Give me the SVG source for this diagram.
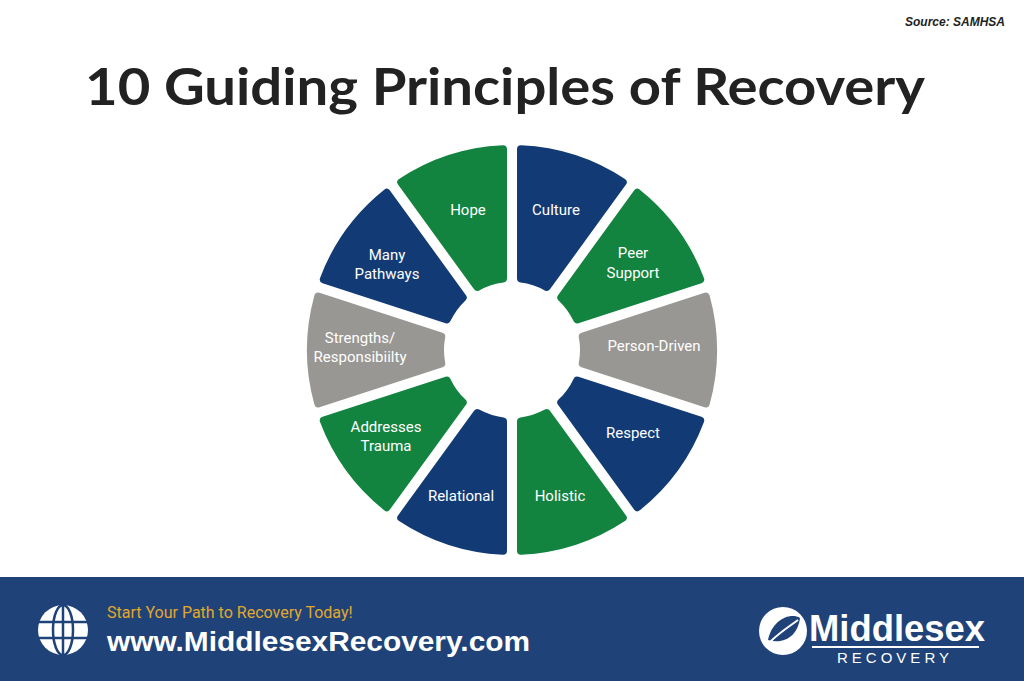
<svg xmlns="http://www.w3.org/2000/svg" width="1024" height="681" viewBox="0 0 1024 681">
<style>
.seg{stroke-width:8;stroke-linejoin:round}
.b{fill:#123b76;stroke:#123b76}
.g{fill:#138340;stroke:#138340}
.y{fill:#999794;stroke:#999794}
.lbl{font-family:Roboto,"Liberation Sans",sans-serif;font-size:15px;fill:#fff;text-anchor:middle}
</style>
<rect width="1024" height="681" fill="#fff"/>
<text x="1005" y="26" font-family="'Liberation Sans',sans-serif" font-size="12" font-style="italic" font-weight="bold" fill="#222" text-anchor="end">Source: SAMHSA</text>
<text x="505" y="105" font-family="Lato,'Liberation Sans',sans-serif" font-size="52" font-weight="bold" fill="#222" text-anchor="middle" textLength="840" lengthAdjust="spacingAndGlyphs">10 Guiding Principles of Recovery</text>
<g id="wheel">
<g id="culture"><path class="seg b" d="M521,149.2 A201,201 0 0 1 622.75,182.26 L546.71,286.91 A72,72 0 0 0 521,278.56 Z"/><text class="lbl" x="556" y="215">Culture</text></g>
<g id="peer"><path class="seg g" d="M637.31,192.84 A201,201 0 0 1 700.2,279.39 L577.17,319.36 A72,72 0 0 0 561.27,297.49 Z"/><text class="lbl" x="633" y="258">Peer</text><text class="lbl" x="633" y="278">Support</text></g>
<g id="person"><path class="seg y" d="M705.76,296.51 A201,201 0 0 1 705.76,403.49 L582.73,363.52 A72,72 0 0 0 582.73,336.48 Z"/><text class="lbl" x="654" y="351">Person-Driven</text></g>
<g id="respect"><path class="seg b" d="M700.2,420.61 A201,201 0 0 1 637.31,507.16 L561.27,402.51 A72,72 0 0 0 577.17,380.64 Z"/><text class="lbl" x="633" y="438">Respect</text></g>
<g id="holistic"><path class="seg g" d="M622.75,517.74 A201,201 0 0 1 521,550.8 L521,421.44 A72,72 0 0 0 546.71,413.09 Z"/><text class="lbl" x="560" y="501">Holistic</text></g>
<g id="relational"><path class="seg b" d="M503,550.8 A201,201 0 0 1 401.25,517.74 L477.29,413.09 A72,72 0 0 0 503,421.44 Z"/><text class="lbl" x="461" y="501">Relational</text></g>
<g id="trauma"><path class="seg g" d="M386.69,507.16 A201,201 0 0 1 323.8,420.61 L446.83,380.64 A72,72 0 0 0 462.73,402.51 Z"/><text class="lbl" x="386" y="432">Addresses</text><text class="lbl" x="386" y="451">Trauma</text></g>
<g id="strengths"><path class="seg y" d="M318.24,403.49 A201,201 0 0 1 318.24,296.51 L441.27,336.48 A72,72 0 0 0 441.27,363.52 Z"/><text class="lbl" x="360" y="343">Strengths/</text><text class="lbl" x="360" y="362">Responsibiilty</text></g>
<g id="pathways"><path class="seg b" d="M323.8,279.39 A201,201 0 0 1 386.69,192.84 L462.73,297.49 A72,72 0 0 0 446.83,319.36 Z"/><text class="lbl" x="387" y="260">Many</text><text class="lbl" x="387" y="279">Pathways</text></g>
<g id="hope"><path class="seg g" d="M401.25,182.26 A201,201 0 0 1 503,149.2 L503,278.56 A72,72 0 0 0 477.29,286.91 Z"/><text class="lbl" x="468" y="215">Hope</text></g>
</g>
<g id="connectors"/>
<g id="footer">
<rect x="0" y="577" width="1024" height="104" fill="#1f4279"/>
<g id="globe" fill="none" stroke="#fff" stroke-width="3">
<circle cx="63" cy="630" r="25" fill="#fff" stroke="none"/>
<g stroke="#1f4279" stroke-width="2.5">
<ellipse cx="63" cy="630" rx="10" ry="25"/>
<line x1="63" y1="605" x2="63" y2="655"/>
<line x1="38" y1="622" x2="88" y2="622"/>
<line x1="38" y1="638" x2="88" y2="638"/>
</g>
</g>
<text x="107" y="618" font-family="Roboto,'Liberation Sans',sans-serif" font-size="16" fill="#e3a82b">Start Your Path to Recovery Today!</text>
<text x="107" y="651" font-family="'Liberation Sans',sans-serif" font-size="27" font-weight="bold" fill="#fff" textLength="423" lengthAdjust="spacingAndGlyphs">www.MiddlesexRecovery.com</text>
<g id="logo">
<circle cx="783" cy="631" r="24" fill="#fff"/>
<path d="M768,640 C772,620 790,612 800,618 C798,635 785,645 768,640 Z" fill="#1f4279"/>
<path d="M770,642 C780,632 790,626 798,620" stroke="#fff" stroke-width="2" fill="none"/>
<text x="809" y="641" font-family="'Liberation Sans',sans-serif" font-size="36" font-weight="bold" fill="#fff" textLength="176" lengthAdjust="spacingAndGlyphs">Middlesex</text>
<rect x="812" y="646" width="167" height="2" fill="#fff"/>
<text x="895" y="663" font-family="'Liberation Sans',sans-serif" font-size="15" fill="#fff" text-anchor="middle" letter-spacing="4">RECOVERY</text>
</g>
</g>
</svg>
